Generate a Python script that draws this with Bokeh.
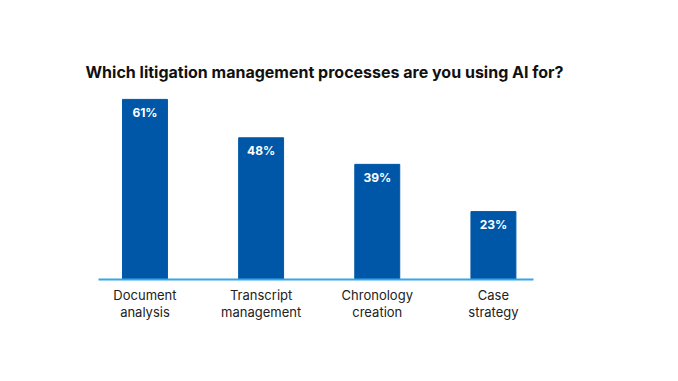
from bokeh.plotting import figure
from bokeh.models import ColumnDataSource, FixedTicker, Range1d, Title
from bokeh.core.properties import value
from bokeh.embed import file_html
from bokeh.resources import INLINE

title_text = "Which litigation management processes are you using AI for?"
categories = ["Document\nanalysis", "Transcript\nmanagement", "Chronology\ncreation", "Case\nstrategy"]
values = [61, 48, 39, 23]
value_labels = ["61%", "48%", "39%", "23%"]
positions = [0, 1, 2, 3]

BAR = "#0057A8"
AXIS = "#33A8E8"

src = ColumnDataSource(dict(x=positions, top=values, label=value_labels))

p = figure(width=670, height=373, output_backend="svg", toolbar_location=None,
           x_range=Range1d(-0.40, 3.345), y_range=Range1d(0, 63),
           min_border_left=98, min_border_right=137, min_border_top=93,
           min_border_bottom=94)
p.title = None
t = Title(text=title_text, text_font="Inter", text_font_size="16px",
          text_font_style="bold", text_color="#111111", align="left",
          vertical_align="top", offset=-13, standoff=19)
p.add_layout(t, "above")

p.vbar(x="x", top="top", bottom=0, width=0.387, source=src, fill_color=BAR,
       line_color=BAR)
p.text(x="x", y="top", text="label", source=src, text_font=value("Inter"),
       text_font_size="12px", text_font_style="bold", text_color="white",
       text_align="center", text_baseline="middle", y_offset=13)

p.xaxis.ticker = FixedTicker(ticks=positions)
p.xaxis.major_label_overrides = {i: c for i, c in zip(positions, categories)}
p.xaxis.major_tick_line_color = None
p.xaxis.minor_tick_line_color = None
p.xaxis.axis_line_color = AXIS
p.xaxis.axis_line_width = 2
p.xaxis.major_label_text_font = "Inter"
p.xaxis.major_label_text_font_size = "13px"
p.xaxis.major_label_text_color = "#222222"
p.xaxis.major_label_text_line_height = 1.07
p.xaxis.major_label_standoff = 1
p.yaxis.visible = False
p.xgrid.visible = False
p.ygrid.visible = False
p.outline_line_color = None
p.background_fill_color = "white"
p.border_fill_color = "white"

open("out.html", "w").write(file_html(p, INLINE))
